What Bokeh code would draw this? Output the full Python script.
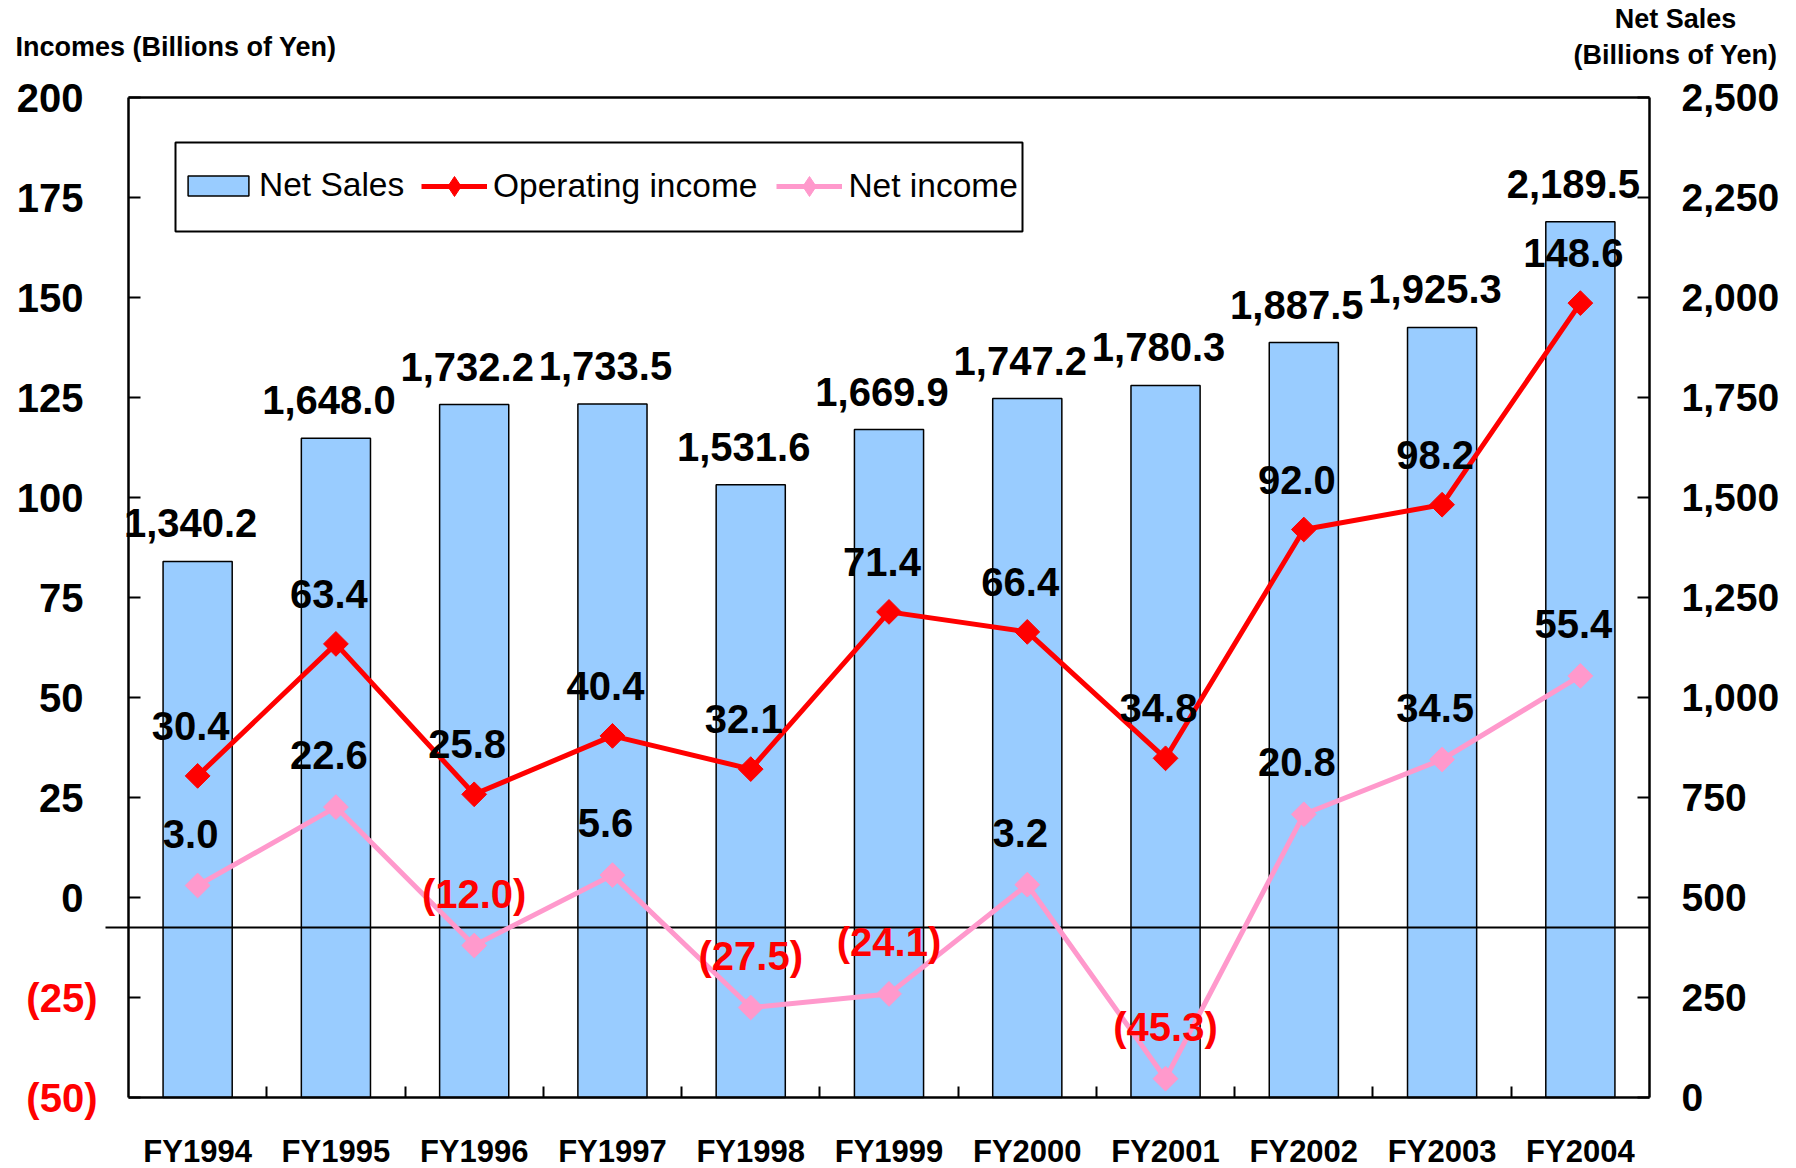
import numpy as np
from bokeh.plotting import figure
from bokeh.models import (Range1d, LinearAxis, FixedTicker, NumeralTickFormatter,
                          ColumnDataSource, Legend, LegendItem, Label, BoxAnnotation)
from bokeh.core.properties import value
from bokeh.embed import file_html
from bokeh.resources import INLINE

# ---------------- data ----------------
years = ["FY1994", "FY1995", "FY1996", "FY1997", "FY1998", "FY1999",
         "FY2000", "FY2001", "FY2002", "FY2003", "FY2004"]
net_sales = [1340.2, 1648.0, 1732.2, 1733.5, 1531.6, 1669.9,
             1747.2, 1780.3, 1887.5, 1925.3, 2189.5]
operating_income = [30.4, 63.4, 25.8, 40.4, 32.1, 71.4,
                    66.4, 34.8, 92.0, 98.2, 148.6]
net_income = [3.0, 22.6, -12.0, 5.6, -27.5, -24.1,
              3.2, -45.3, 20.8, 34.5, 55.4]
left_ticks = [-50, -25, 0, 25, 50, 75, 100, 125, 150, 175, 200]
right_ticks = [0, 250, 500, 750, 1000, 1250, 1500, 1750, 2000, 2250, 2500]
reference_level = -7.5   # horizontal reference line on the income axis

FONT = "Liberation Sans"
BAR_FILL = "#99CCFF"
RED = "#FF0000"
PINK = "#FF99CC"

W, H = 1796, 1168
# plot-area placement in pixels
F_LEFT, F_RIGHT, F_TOP, F_BOTTOM = 128, 1649, 97, 1097

n = len(years)
xs = list(range(1, n + 1))
x_lo, x_hi = 0.5, n + 0.5
y_lo, y_hi = left_ticks[0], left_ticks[-1]
s_lo, s_hi = right_ticks[0], right_ticks[-1]

px_x = (F_RIGHT - F_LEFT) / (x_hi - x_lo)
px_y = (F_BOTTOM - F_TOP) / (y_hi - y_lo)
px_s = (F_BOTTOM - F_TOP) / (s_hi - s_lo)

X0 = x_lo - F_LEFT / px_x
X1 = x_hi + (W - F_RIGHT) / px_x
Y0 = y_lo - (H - F_BOTTOM) / px_y
Y1 = y_hi + F_TOP / px_y
S0 = s_lo - (H - F_BOTTOM) / px_s
S1 = s_hi + F_TOP / px_s


def xd(px):
    return X0 + px / px_x


def yd(py):
    return Y1 - py / px_y


# ---------------- figure ----------------
p = figure(width=W, height=H, output_backend="svg", toolbar_location=None,
           x_range=Range1d(X0, X1), y_range=Range1d(Y0, Y1),
           x_axis_location=None, y_axis_location=None, min_border=0)
p.extra_y_ranges = {"sales": Range1d(S0, S1)}
p.xgrid.visible = False
p.ygrid.visible = False
p.outline_line_color = None
p.background_fill_color = "white"
p.border_fill_color = "white"


def style_labels(ax, size):
    ax.major_label_text_font = FONT
    ax.major_label_text_font_style = "bold"
    ax.major_label_text_font_size = size
    ax.major_label_text_color = "black"


# bottom axis (categories)
xa = LinearAxis(fixed_location=y_lo, bounds=(x_lo, x_hi),
                ticker=FixedTicker(ticks=xs, minor_ticks=[i + 0.5 for i in xs[:-1]]))
xa.major_label_overrides = {i: y for i, y in zip(xs, years)}
xa.major_tick_in = 0
xa.major_tick_out = 0
xa.minor_tick_in = 11
xa.minor_tick_out = 0
xa.minor_tick_line_color = "black"
xa.minor_tick_line_width = 2
xa.axis_line_width = 2.5
xa.axis_line_color = "black"
xa.major_label_standoff = 36
style_labels(xa, "31px")
p.add_layout(xa, "below")

# top border of plot area
ta = LinearAxis(fixed_location=y_hi, bounds=(x_lo, x_hi),
                ticker=FixedTicker(ticks=[]))
ta.major_tick_in = 0
ta.major_tick_out = 0
ta.minor_tick_in = 0
ta.minor_tick_out = 0
ta.major_label_text_font_size = "0px"
ta.axis_line_width = 2.5
ta.axis_line_color = "black"
p.add_layout(ta, "above")

# left axis (incomes)
ya = LinearAxis(fixed_location=x_lo, bounds=(y_lo, y_hi),
                ticker=FixedTicker(ticks=left_ticks))
ya.major_label_overrides = {t: (str(t) if t >= 0 else "") for t in left_ticks}
ya.major_tick_in = 12
ya.major_tick_out = 0
ya.minor_tick_in = 0
ya.minor_tick_out = 0
ya.major_tick_line_width = 2
ya.axis_line_width = 2.5
ya.axis_line_color = "black"
ya.major_label_standoff = 45
style_labels(ya, "40px")
p.add_layout(ya, "left")

# red negative labels of the left axis
for t in left_ticks:
    if t < 0:
        p.add_layout(Label(x=x_lo, y=t, x_offset=-31, text=f"({abs(t)})",
                           text_align="right", text_baseline="middle",
                           text_color=RED, text_font=FONT, text_font_style="bold",
                           text_font_size="40px"))

# right axis (net sales)
ra = LinearAxis(y_range_name="sales", fixed_location=x_hi, bounds=(s_lo, s_hi),
                ticker=FixedTicker(ticks=right_ticks),
                formatter=NumeralTickFormatter(format="0,0"))
ra.major_tick_in = 12
ra.major_tick_out = 0
ra.minor_tick_in = 0
ra.minor_tick_out = 0
ra.major_tick_line_width = 2
ra.axis_line_width = 2.5
ra.axis_line_color = "black"
ra.major_label_standoff = 32
style_labels(ra, "39px")
p.add_layout(ra, "right")

# ---------------- glyphs ----------------
PAREN_SHIFT = -7   # positive numbers keep room for a closing parenthesis


def fmt(v):
    return f"{v:.1f}" if v >= 0 else f"({-v:.1f})"


src = ColumnDataSource(dict(
    x=xs, sales=net_sales, op=operating_income, ni=net_income,
    sales_txt=[f"{v:,.1f}" for v in net_sales],
    sales_dx=[PAREN_SHIFT for v in net_sales],
    op_txt=[fmt(v) for v in operating_income],
    op_col=["black" if v >= 0 else RED for v in operating_income],
    op_dx=[PAREN_SHIFT if v >= 0 else 0 for v in operating_income],
    ni_txt=[fmt(v) for v in net_income],
    ni_col=["black" if v >= 0 else RED for v in net_income],
    ni_dx=[PAREN_SHIFT if v >= 0 else 0 for v in net_income],
))

bars = p.vbar(x="x", top="sales", bottom=0, width=0.5, source=src,
              y_range_name="sales", fill_color=BAR_FILL, line_color="black",
              line_width=1.5)

# horizontal reference line, with its short stub left of the axis
p.line(x=[x_lo - 23 / px_x, x_hi], y=[reference_level, reference_level],
       line_color="black", line_width=2)

op_line = p.line(x="x", y="op", source=src, line_color=RED, line_width=5)
# diamond used as legend symbol (hidden beneath the rotated squares)
op_leg = p.scatter(x="x", y="op", source=src, marker="diamond", size=20,
                   fill_color=RED, line_color=RED)
p.scatter(x="x", y="op", source=src, marker="square", angle=np.pi / 4,
          size=17.5, fill_color=RED, line_color=RED)
ni_line = p.line(x="x", y="ni", source=src, line_color=PINK, line_width=5)
ni_leg = p.scatter(x="x", y="ni", source=src, marker="diamond", size=20,
                   fill_color=PINK, line_color=PINK)
p.scatter(x="x", y="ni", source=src, marker="square", angle=np.pi / 4,
          size=17.5, fill_color=PINK, line_color=PINK)

# data labels
common = dict(text_align="center", text_baseline="middle",
              text_font=value(FONT), text_font_style="bold", text_font_size="40px")
p.text(x="x", y="sales", text="sales_txt", source=src, y_range_name="sales",
       x_offset="sales_dx", y_offset=-38, text_color="black", **common)
p.text(x="x", y="op", text="op_txt", source=src, x_offset="op_dx", y_offset=-50,
       text_color="op_col", **common)
p.text(x="x", y="ni", text="ni_txt", source=src, x_offset="ni_dx", y_offset=-52,
       text_color="ni_col", **common)

# ---------------- axis titles ----------------
title_kw = dict(text_baseline="middle", text_font=FONT, text_font_style="bold",
                text_font_size="27px", text_color="black")
p.add_layout(Label(x=xd(15), y=yd(46), text="Incomes (Billions of Yen)",
                   text_align="left", **title_kw))
p.add_layout(Label(x=xd(1675), y=yd(18.5), text="Net Sales",
                   text_align="center", **title_kw))
p.add_layout(Label(x=xd(1675), y=yd(54), text="(Billions of Yen)",
                   text_align="center", **title_kw))

# ---------------- legend ----------------
p.add_layout(BoxAnnotation(left=xd(175), right=xd(1022), top=yd(142), bottom=yd(231),
                           fill_color="white", fill_alpha=1.0,
                           line_color="black", line_alpha=1.0, line_width=2,
                           level="underlay"))

leg_kw = dict(orientation="horizontal", padding=0, margin=0, spacing=19,
              label_text_font=FONT, label_text_font_size="33.5px",
              label_text_color="black", border_line_color=None,
              background_fill_alpha=0.0)
legend_a = Legend(items=[LegendItem(label="Net Sales", renderers=[bars])],
                  location=(180, H - 204), glyph_width=76, glyph_height=25,
                  label_standoff=3, **leg_kw)
legend_b = Legend(items=[
    LegendItem(label="Operating income", renderers=[op_line, op_leg]),
    LegendItem(label="Net income", renderers=[ni_line, ni_leg]),
], location=(421, H - 211), glyph_width=66, glyph_height=50,
    label_standoff=6, **leg_kw)
p.add_layout(legend_a, "center")
p.add_layout(legend_b, "center")

open("out.html", "w").write(file_html(p, INLINE))
